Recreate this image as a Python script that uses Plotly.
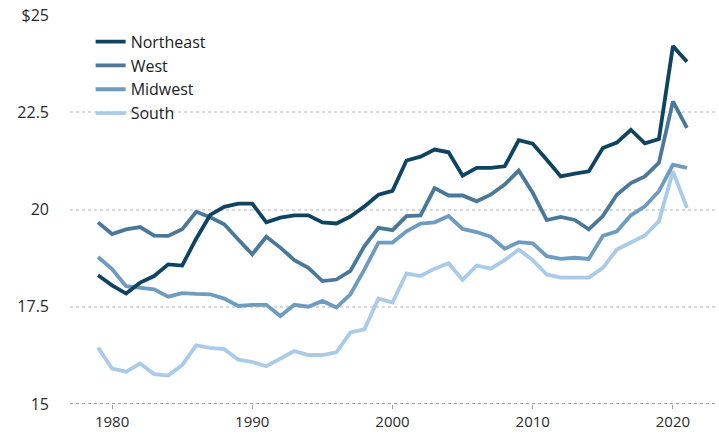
import plotly.graph_objects as go

years = list(range(1979, 2022))

northeast = [18.31, 18.05, 17.84, 18.12, 18.29, 18.59, 18.56, 19.25, 19.86, 20.07, 20.15, 20.15,
             19.67, 19.79, 19.85, 19.85, 19.67, 19.64, 19.82, 20.08, 20.38, 20.48, 21.26, 21.36,
             21.54, 21.47, 20.87, 21.07, 21.07, 21.11, 21.78, 21.69, 21.28, 20.85, 20.92, 20.98,
             21.58, 21.72, 22.05, 21.70, 21.81, 24.20, 23.80]
west = [19.67, 19.37, 19.49, 19.55, 19.33, 19.32, 19.49, 19.94, 19.80, 19.62, 19.23, 18.85,
        19.30, 19.02, 18.70, 18.50, 18.16, 18.20, 18.42, 19.06, 19.53, 19.47, 19.83, 19.85,
        20.55, 20.36, 20.36, 20.21, 20.38, 20.64, 21.00, 20.43, 19.73, 19.81, 19.73, 19.49,
        19.83, 20.38, 20.68, 20.85, 21.20, 22.78, 22.10]
midwest = [18.78, 18.47, 18.03, 17.99, 17.95, 17.76, 17.85, 17.83, 17.82, 17.71, 17.52, 17.55,
           17.55, 17.26, 17.55, 17.50, 17.65, 17.48, 17.82, 18.46, 19.15, 19.15, 19.44, 19.64,
           19.67, 19.83, 19.50, 19.42, 19.30, 18.99, 19.16, 19.13, 18.80, 18.73, 18.76, 18.73,
           19.32, 19.44, 19.85, 20.08, 20.47, 21.15, 21.07]
south = [16.45, 15.91, 15.83, 16.04, 15.77, 15.73, 16.00, 16.51, 16.44, 16.41, 16.14, 16.08,
         15.97, 16.17, 16.36, 16.26, 16.26, 16.33, 16.84, 16.92, 17.71, 17.61, 18.36, 18.29,
         18.48, 18.62, 18.19, 18.56, 18.48, 18.70, 18.97, 18.70, 18.33, 18.25, 18.25, 18.25,
         18.50, 18.97, 19.15, 19.33, 19.70, 20.98, 20.04]

series = [
    ("Northeast", northeast, "#0e4462"),
    ("West", west, "#4a7898"),
    ("Midwest", midwest, "#6e9bc0"),
    ("South", south, "#a9cbe9"),
]

y_tickvals = [15, 17.5, 20, 22.5, 25]
y_ticktext = ["15", "17.5", "20", "22.5", "$25"]
x_tickvals = [1980, 1990, 2000, 2010, 2020]

fig = go.Figure()
for name, vals, color in reversed(series):
    fig.add_trace(go.Scatter(x=years, y=vals, mode="lines", name=name,
                             line=dict(color=color, width=3.8)))

fig.add_shape(type="line", xref="paper", yref="y", x0=0, x1=1, y0=15, y1=15,
              line=dict(color="#a0a0a0", width=2, dash="dot"), layer="below")

fig.update_layout(
    width=719, height=434,
    margin=dict(l=70, r=4, t=15, b=30),
    paper_bgcolor="white", plot_bgcolor="white",
    font=dict(family="Open Sans, Lato, sans-serif", size=16, color="#2a2a2a"),
    showlegend=True,
    legend=dict(x=0.032, y=0.975, xanchor="left", yanchor="top",
                traceorder="reversed", font=dict(size=16, color="#222222"),
                bgcolor="rgba(0,0,0,0)", itemwidth=30, tracegroupgap=0),
    xaxis=dict(range=[1977, 2023], tickvals=x_tickvals, showgrid=False,
               zeroline=False, showline=False, ticks="outside", ticklen=4,
               tickcolor="#a0a0a0", tickwidth=1, automargin=False,
               tickfont=dict(size=15, color="#2a2a2a")),
    yaxis=dict(range=[15, 25], tickvals=y_tickvals, ticktext=y_ticktext,
               showgrid=True, gridcolor="#d9d9d9", gridwidth=2, griddash="dot",
               zeroline=False, showline=False, ticklabelstandoff=20, automargin=False,
               tickfont=dict(size=16, color="#2a2a2a")),
)

fig.write_html("out.html")
